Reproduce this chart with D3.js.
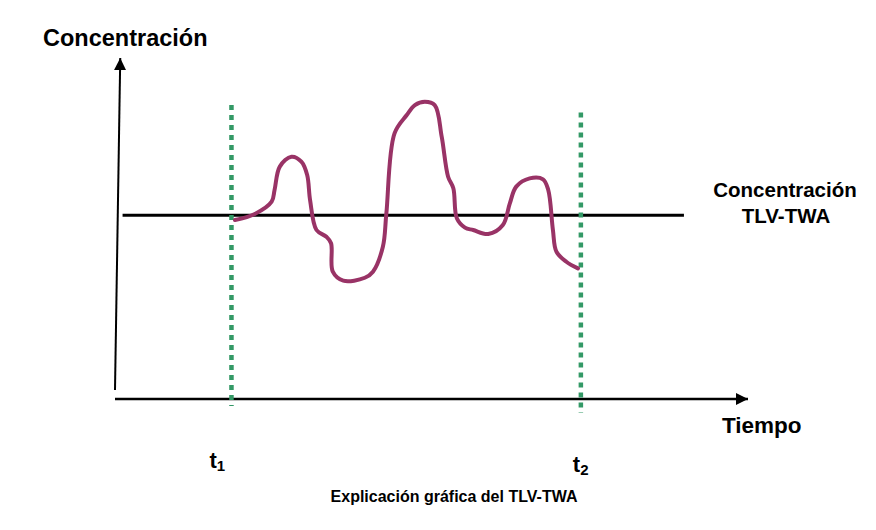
<!DOCTYPE html>
<html>
<head>
<meta charset="utf-8">
<script src="https://cdn.jsdelivr.net/npm/d3@7"></script>
<style>
  body { margin: 0; background: #fff; }
  text { font-family: Arial, "Liberation Sans", sans-serif; font-weight: bold; fill: #000; }
</style>
</head>
<body>
<svg id="chart" width="876" height="530"></svg>
<script>
// time (arbitrary units) and concentration (TLV-TWA = 100)
const tiempo = [2.06, 2.40, 2.69, 2.74, 2.83, 3.03, 3.20, 3.30, 3.35, 3.46, 3.63, 3.71, 3.74, 3.92,
  4.29, 4.43, 4.60, 4.66, 4.80, 5.01, 5.15, 5.32, 5.49, 5.61, 5.72, 5.81, 5.87, 6.01, 6.15, 6.41,
  6.66, 6.78, 6.89, 7.12, 7.35, 7.44, 7.52, 7.58, 7.75, 7.95]
const concentracion = [97.4, 100.7, 107.4, 113.8, 126.5, 131.9, 129.2, 121.9, 108.3, 92.0, 88.3, 84.8, 69.3, 64.4,
  66.0, 69.3, 82.9, 101.1, 144.6, 154.6, 160.0, 161.8, 160.0, 142.8, 121.0, 114.7, 98.4, 93.3, 92.0, 89.8,
  94.7, 106.5, 115.6, 120.1, 119.6, 113.8, 92.0, 80.2, 74.7, 71.1]
const tlv = 100
const tMarks = [2, 8]
const tLabels = ['1', '2']
const tlvRange = [0.13, 9.77]

const x = d3.scaleLinear().domain([0, 10.87]).range([115, 748])
const y = d3.scaleLinear().domain([0, 100]).range([399, 215.3])

const svg = d3.select('#chart')

const defs = svg.append('defs')
defs.append('marker')
  .attr('id', 'arrow')
  .attr('viewBox', '0 0 10 10')
  .attr('refX', 10).attr('refY', 5)
  .attr('markerWidth', 12).attr('markerHeight', 12)
  .attr('markerUnits', 'userSpaceOnUse')
  .attr('orient', 'auto')
  .append('path')
  .attr('d', 'M0,0 L10,5 L0,10 Z')
  .attr('fill', '#000')

// axes drawn as arrows
svg.append('line')
  .attr('x1', x(0)).attr('y1', y(0))
  .attr('x2', x(10.87)).attr('y2', y(0))
  .attr('stroke', '#000').attr('stroke-width', 2.5)
  .attr('marker-end', 'url(#arrow)')

svg.append('line')
  .attr('x1', x(0)).attr('y1', y(4.9))
  .attr('x2', x(0.09)).attr('y2', y(185.6))
  .attr('stroke', '#000').attr('stroke-width', 2)
  .attr('marker-end', 'url(#arrow)')

// TLV-TWA level
svg.append('line')
  .attr('x1', x(tlvRange[0])).attr('x2', x(tlvRange[1]))
  .attr('y1', y(tlv)).attr('y2', y(tlv))
  .attr('stroke', '#000').attr('stroke-width', 3)

// t1, t2 markers
const tTop = [160, 156]
const tBottom = [-3.8, -7.6]
svg.selectAll('.tline')
  .data(tMarks)
  .enter()
  .append('line')
  .attr('class', 'tline')
  .attr('x1', d => x(d)).attr('x2', d => x(d))
  .attr('y1', (d, i) => y(tTop[i])).attr('y2', (d, i) => y(tBottom[i]))
  .attr('stroke', '#339966').attr('stroke-width', 4.5)
  .attr('stroke-dasharray', '5,5')

// concentration curve
const line = d3.line()
  .x(d => x(d[0]))
  .y(d => y(d[1]))
  .curve(d3.curveCatmullRom.alpha(0.5))

svg.append('path')
  .datum(tiempo.map((t, i) => [t, concentracion[i]]))
  .attr('d', line)
  .attr('fill', 'none')
  .attr('stroke', '#993366')
  .attr('stroke-width', 4)
  .attr('stroke-linejoin', 'round')
  .attr('stroke-linecap', 'round')

// texts
svg.append('text').attr('x', 43).attr('y', 46)
  .style('font-size', '23.5px').text('Concentración')

svg.append('text').attr('x', 722).attr('y', 433)
  .style('font-size', '22.5px').text('Tiempo')

const tlvLabel = svg.append('text').attr('text-anchor', 'middle')
  .style('font-size', '20.5px')
tlvLabel.append('tspan').attr('x', 785).attr('y', 197).text('Concentración')
tlvLabel.append('tspan').attr('x', 786).attr('y', 223).text('TLV-TWA')

const tBase = [468, 472]
tMarks.forEach((t, i) => {
  const lab = svg.append('text')
    .attr('x', x(t) - 22 + i * 14).attr('y', tBase[i])
    .style('font-size', '22px')
  lab.append('tspan').text('t')
  lab.append('tspan').attr('dy', 3).style('font-size', '15px').text(tLabels[i])
})

svg.append('text').attr('x', 454).attr('y', 502)
  .attr('text-anchor', 'middle')
  .style('font-size', '16px').text('Explicación gráfica del TLV-TWA')
</script>
</body>
</html>
